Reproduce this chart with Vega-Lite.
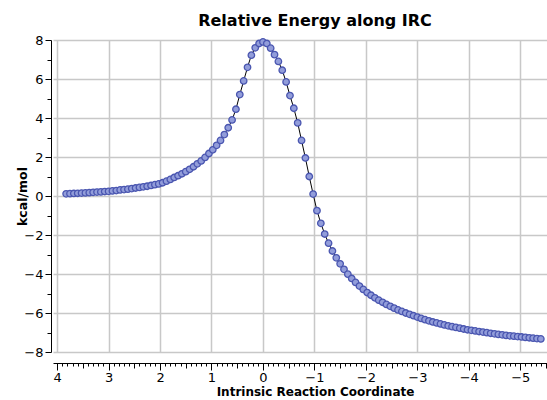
{
  "$schema": "https://vega.github.io/schema/vega-lite/v6.json",
  "autosize": {"type": "none"},
  "padding": {"left": 53, "top": 40, "right": 0, "bottom": 48},
  "width": 494,
  "height": 312,
  "background": "white",
  "config": {
    "view": {"stroke": null},
    "font": "DejaVu Sans"
  },
  "title": {
    "text": "Relative Energy along IRC",
    "font": "DejaVu Sans",
    "fontSize": 16,
    "fontWeight": "bold",
    "color": "black",
    "anchor": "middle",
    "dx": 15,
    "offset": 5
  },
  "data": {
    "values": [
      {"irc": 3.825, "e": 0.11}, {"irc": 3.75, "e": 0.12}, {"irc": 3.675, "e": 0.13}, {"irc": 3.6, "e": 0.14},
      {"irc": 3.525, "e": 0.15}, {"irc": 3.45, "e": 0.16}, {"irc": 3.375, "e": 0.17}, {"irc": 3.3, "e": 0.19},
      {"irc": 3.225, "e": 0.2}, {"irc": 3.15, "e": 0.21}, {"irc": 3.075, "e": 0.23}, {"irc": 3.0, "e": 0.24},
      {"irc": 2.925, "e": 0.26}, {"irc": 2.85, "e": 0.28}, {"irc": 2.775, "e": 0.31}, {"irc": 2.7, "e": 0.33},
      {"irc": 2.625, "e": 0.35}, {"irc": 2.55, "e": 0.38}, {"irc": 2.475, "e": 0.41}, {"irc": 2.4, "e": 0.44},
      {"irc": 2.325, "e": 0.47}, {"irc": 2.25, "e": 0.5}, {"irc": 2.175, "e": 0.54}, {"irc": 2.1, "e": 0.58},
      {"irc": 2.025, "e": 0.62}, {"irc": 1.95, "e": 0.68}, {"irc": 1.875, "e": 0.76}, {"irc": 1.8, "e": 0.85},
      {"irc": 1.725, "e": 0.95}, {"irc": 1.65, "e": 1.04}, {"irc": 1.575, "e": 1.14}, {"irc": 1.5, "e": 1.25},
      {"irc": 1.425, "e": 1.37}, {"irc": 1.35, "e": 1.5}, {"irc": 1.275, "e": 1.65}, {"irc": 1.2, "e": 1.8},
      {"irc": 1.125, "e": 1.98}, {"irc": 1.05, "e": 2.18}, {"irc": 0.975, "e": 2.37}, {"irc": 0.9, "e": 2.6},
      {"irc": 0.825, "e": 2.85}, {"irc": 0.75, "e": 3.15}, {"irc": 0.675, "e": 3.5}, {"irc": 0.6, "e": 3.9},
      {"irc": 0.525, "e": 4.45}, {"irc": 0.45, "e": 5.2}, {"irc": 0.375, "e": 5.9}, {"irc": 0.3, "e": 6.6},
      {"irc": 0.225, "e": 7.22}, {"irc": 0.15, "e": 7.6}, {"irc": 0.075, "e": 7.82}, {"irc": 0.0, "e": 7.9},
      {"irc": -0.075, "e": 7.82}, {"irc": -0.15, "e": 7.58}, {"irc": -0.225, "e": 7.25}, {"irc": -0.3, "e": 6.9},
      {"irc": -0.375, "e": 6.45}, {"irc": -0.45, "e": 5.85}, {"irc": -0.525, "e": 5.15}, {"irc": -0.6, "e": 4.5},
      {"irc": -0.675, "e": 3.75}, {"irc": -0.75, "e": 2.85}, {"irc": -0.825, "e": 1.95}, {"irc": -0.9, "e": 1.0},
      {"irc": -0.975, "e": 0.1}, {"irc": -1.05, "e": -0.75}, {"irc": -1.125, "e": -1.4}, {"irc": -1.2, "e": -1.95},
      {"irc": -1.275, "e": -2.42}, {"irc": -1.35, "e": -2.82}, {"irc": -1.425, "e": -3.17}, {"irc": -1.5, "e": -3.48},
      {"irc": -1.575, "e": -3.76}, {"irc": -1.65, "e": -4.01}, {"irc": -1.725, "e": -4.23}, {"irc": -1.8, "e": -4.43},
      {"irc": -1.875, "e": -4.62}, {"irc": -1.95, "e": -4.79}, {"irc": -2.025, "e": -4.95}, {"irc": -2.1, "e": -5.09},
      {"irc": -2.175, "e": -5.22}, {"irc": -2.25, "e": -5.34}, {"irc": -2.325, "e": -5.45}, {"irc": -2.4, "e": -5.56},
      {"irc": -2.475, "e": -5.66}, {"irc": -2.55, "e": -5.75}, {"irc": -2.625, "e": -5.84}, {"irc": -2.7, "e": -5.92},
      {"irc": -2.775, "e": -6.0}, {"irc": -2.85, "e": -6.07}, {"irc": -2.925, "e": -6.14}, {"irc": -3.0, "e": -6.21},
      {"irc": -3.075, "e": -6.28}, {"irc": -3.15, "e": -6.34}, {"irc": -3.225, "e": -6.4}, {"irc": -3.3, "e": -6.46},
      {"irc": -3.375, "e": -6.51}, {"irc": -3.45, "e": -6.56}, {"irc": -3.525, "e": -6.61}, {"irc": -3.6, "e": -6.66},
      {"irc": -3.675, "e": -6.7}, {"irc": -3.75, "e": -6.74}, {"irc": -3.825, "e": -6.78}, {"irc": -3.9, "e": -6.82},
      {"irc": -3.975, "e": -6.86}, {"irc": -4.05, "e": -6.89}, {"irc": -4.125, "e": -6.92}, {"irc": -4.2, "e": -6.95},
      {"irc": -4.275, "e": -6.98}, {"irc": -4.35, "e": -7.01}, {"irc": -4.425, "e": -7.04}, {"irc": -4.5, "e": -7.07},
      {"irc": -4.575, "e": -7.1}, {"irc": -4.65, "e": -7.12}, {"irc": -4.725, "e": -7.15}, {"irc": -4.8, "e": -7.17},
      {"irc": -4.875, "e": -7.19}, {"irc": -4.95, "e": -7.21}, {"irc": -5.025, "e": -7.23}, {"irc": -5.1, "e": -7.25},
      {"irc": -5.175, "e": -7.27}, {"irc": -5.25, "e": -7.29}, {"irc": -5.325, "e": -7.31}, {"irc": -5.4, "e": -7.33}
    ]
  },
  "encoding": {
    "x": {
      "field": "irc",
      "type": "quantitative",
      "scale": {"domain": [4.08, -5.52], "nice": false, "zero": false},
      "axis": {
        "title": "Intrinsic Reaction Coordinate",
        "titleFont": "DejaVu Sans",
        "titleFontSize": 12,
        "titleFontWeight": "bold",
        "titleColor": "black",
        "titleX": 262,
        "titlePadding": 2,
        "offset": 11,
        "values": [4, 3.9, 3.8, 3.7, 3.6, 3.5, 3.4, 3.3, 3.2, 3.1, 3, 2.9, 2.8, 2.7, 2.6, 2.5, 2.4, 2.3, 2.2, 2.1, 2, 1.9, 1.8, 1.7, 1.6, 1.5, 1.4, 1.3, 1.2, 1.1, 1, 0.9, 0.8, 0.7, 0.6, 0.5, 0.4, 0.3, 0.2, 0.1, 0, -0.1, -0.2, -0.3, -0.4, -0.5, -0.6, -0.7, -0.8, -0.9, -1, -1.1, -1.2, -1.3, -1.4, -1.5, -1.6, -1.7, -1.8, -1.9, -2, -2.1, -2.2, -2.3, -2.4, -2.5, -2.6, -2.7, -2.8, -2.9, -3, -3.1, -3.2, -3.3, -3.4, -3.5, -3.6, -3.7, -3.8, -3.9, -4, -4.1, -4.2, -4.3, -4.4, -4.5, -4.6, -4.7, -4.8, -4.9, -5, -5.1, -5.2, -5.3, -5.4, -5.5],
        "labelExpr": "abs(datum.value - round(datum.value)) < 0.001 ? format(datum.value, 'd') : ''",
        "labelOverlap": false,
        "labelFlush": false,
        "labelFont": "DejaVu Sans",
        "labelFontSize": 13,
        "labelColor": "black",
        "labelPadding": 1,
        "domainColor": "black",
        "domainWidth": 1,
        "tickColor": "black",
        "tickSize": {
          "condition": [
            {"test": "abs(datum.value - round(datum.value)) < 0.001", "value": 7},
            {"test": "abs(datum.value * 2 - round(datum.value * 2)) < 0.001", "value": 5}
          ],
          "value": 3
        },
        "grid": true,
        "gridColor": "#c8c8c8",
        "gridWidth": 1.5,
        "gridOpacity": {
          "condition": {"test": "abs(datum.value - round(datum.value)) < 0.001", "value": 1},
          "value": 0
        }
      }
    },
    "y": {
      "field": "e",
      "type": "quantitative",
      "scale": {"domain": [-8, 8], "nice": false},
      "axis": {
        "title": "kcal/mol",
        "titleFont": "DejaVu Sans",
        "titleFontSize": 12.5,
        "titleFontWeight": "bold",
        "titleColor": "black",
        "titlePadding": -6,
        "offset": 2,
        "values": [-8, -7, -6, -5, -4, -3, -2, -1, 0, 1, 2, 3, 4, 5, 6, 7, 8],
        "labelExpr": "datum.value % 2 === 0 ? format(datum.value, 'd') : ''",
        "labelOverlap": false,
        "labelFlush": false,
        "labelFont": "DejaVu Sans",
        "labelFontSize": 13,
        "labelColor": "black",
        "labelPadding": 2,
        "domainColor": "black",
        "tickColor": "black",
        "tickSize": {
          "condition": {"test": "datum.value % 2 === 0", "value": 6},
          "value": 4
        },
        "grid": true,
        "gridColor": "#c8c8c8",
        "gridWidth": 1.5,
        "gridOpacity": {
          "condition": {"test": "datum.value % 2 === 0", "value": 1},
          "value": 0
        }
      }
    }
  },
  "layer": [
    {"mark": {"type": "line", "color": "black", "strokeWidth": 1}},
    {"mark": {"type": "point", "shape": "circle", "filled": false, "fill": "#929dda", "fillOpacity": 1, "stroke": "#4a56b0", "strokeWidth": 1.3, "opacity": 1, "size": 42}}
  ]
}
